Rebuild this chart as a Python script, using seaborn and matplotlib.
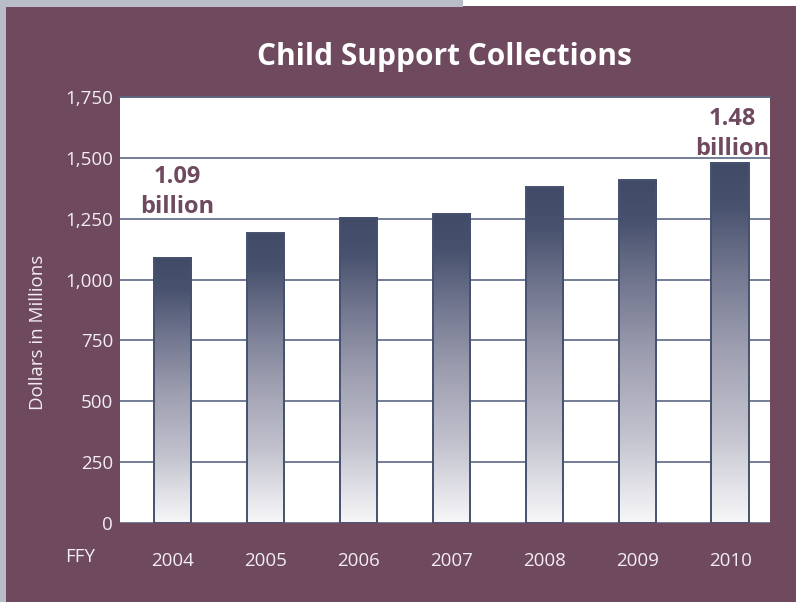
import numpy as np
import pandas as pd
import matplotlib
matplotlib.use("Agg")
import matplotlib.pyplot as plt
import seaborn as sns
from matplotlib.colors import LinearSegmentedColormap
from matplotlib.patches import Rectangle

# Child support collections by federal fiscal year (millions of dollars)
years = ["2004", "2005", "2006", "2007", "2008", "2009", "2010"]
collections = [1090, 1191, 1253, 1270, 1380, 1409, 1480]
y_ticks = [0, 250, 500, 750, 1000, 1250, 1500, 1750]
y_tick_labels = ["0", "250", "500", "750", "1,000", "1,250", "1,500", "1,750"]
callouts = {"2004": "1.09\nbillion", "2010": "1.48\nbillion"}

BG = "#6f4a5f"
TEXT = "#f3edf1"
GRID = "#5b6784"
EDGE = "#46516f"

sns.set_theme(style="white")
plt.rcParams["font.family"] = ["Open Sans", "DejaVu Sans"]

fig = plt.figure(figsize=(7.96, 6.02), dpi=100)
fig.patch.set_facecolor(BG)

# page frame strips along the top and left edges
fig.patches.append(Rectangle((0, 1 - 7 / 602), 463 / 796, 7 / 602, transform=fig.transFigure,
                             facecolor="#b9bdc9", edgecolor="none", zorder=0))
fig.patches.append(Rectangle((463 / 796, 1 - 6 / 602), 333 / 796, 6 / 602, transform=fig.transFigure,
                             facecolor="white", edgecolor="none", zorder=0))
fig.patches.append(Rectangle((0, 0), 6 / 796, 1, transform=fig.transFigure,
                             facecolor="#b9bdc9", edgecolor="none", zorder=0))

ax = fig.add_axes([120 / 796, 79 / 602, 650 / 796, 426 / 602])
ax.set_facecolor("white")

df = pd.DataFrame({"year": years, "value": collections})
sns.barplot(data=df, x="year", y="value", width=0.4, color=EDGE, ax=ax, zorder=3)

cmap = LinearSegmentedColormap.from_list(
    "barfade",
    [(0.0, "#f7f7f9"), (0.25, "#c3c3cf"), (0.5, "#9b9cae"), (0.72, "#6e738c"),
     (0.88, "#48526e"), (1.0, "#414b68")],
)
grad = np.linspace(0, 1, 256).reshape(-1, 1)
for bar in ax.patches:
    x0, w, h = bar.get_x(), bar.get_width(), bar.get_height()
    bar.set_facecolor("none")
    bar.set_edgecolor(EDGE)
    bar.set_linewidth(1.4)
    bar.set_zorder(4)
    ax.imshow(grad, cmap=cmap, origin="lower", aspect="auto",
              extent=[x0, x0 + w, 0, h], zorder=3, interpolation="bilinear")

ax.set_xlim(-0.57, 6.43)
ax.set_ylim(0, 1750)
ax.set_yticks(y_ticks)
ax.set_yticklabels(y_tick_labels)
ax.yaxis.grid(True, color=GRID, linewidth=1.2, zorder=1)
ax.set_axisbelow(True)
ax.set_xlabel("")
ax.set_ylabel("")
for side in ["left", "right", "bottom"]:
    ax.spines[side].set_visible(False)
ax.spines["top"].set_visible(True)
ax.spines["top"].set_color(GRID)
ax.spines["top"].set_linewidth(1.2)
ax.tick_params(axis="y", length=0, pad=5, labelsize=13.5, labelcolor=TEXT)
ax.tick_params(axis="x", length=0, pad=21, labelsize=13.5, labelcolor=TEXT)

# value callouts above the first and last bars
ax.text(0.05, 1360, callouts["2004"], ha="center", va="center", fontsize=17,
        fontweight="bold", color=BG, linespacing=1.3, zorder=5)
ax.text(6.02, 1598, callouts["2010"], ha="center", va="center", fontsize=17,
        fontweight="bold", color=BG, linespacing=1.3, zorder=5)

fig.text(444 / 796, 1 - 57 / 602, "Child Support Collections", ha="center", va="center",
         fontsize=21.5, fontweight="bold", color="white")
fig.text(80 / 796, 1 - 557 / 602, "FFY", ha="center", va="center", fontsize=13.5, color=TEXT)
fig.text(38 / 796, 1 - 332 / 602, "Dollars in Millions", ha="center", va="center",
         rotation=90, fontsize=13.5, color=TEXT)

fig.savefig("out.png", dpi=100, facecolor=fig.get_facecolor())
